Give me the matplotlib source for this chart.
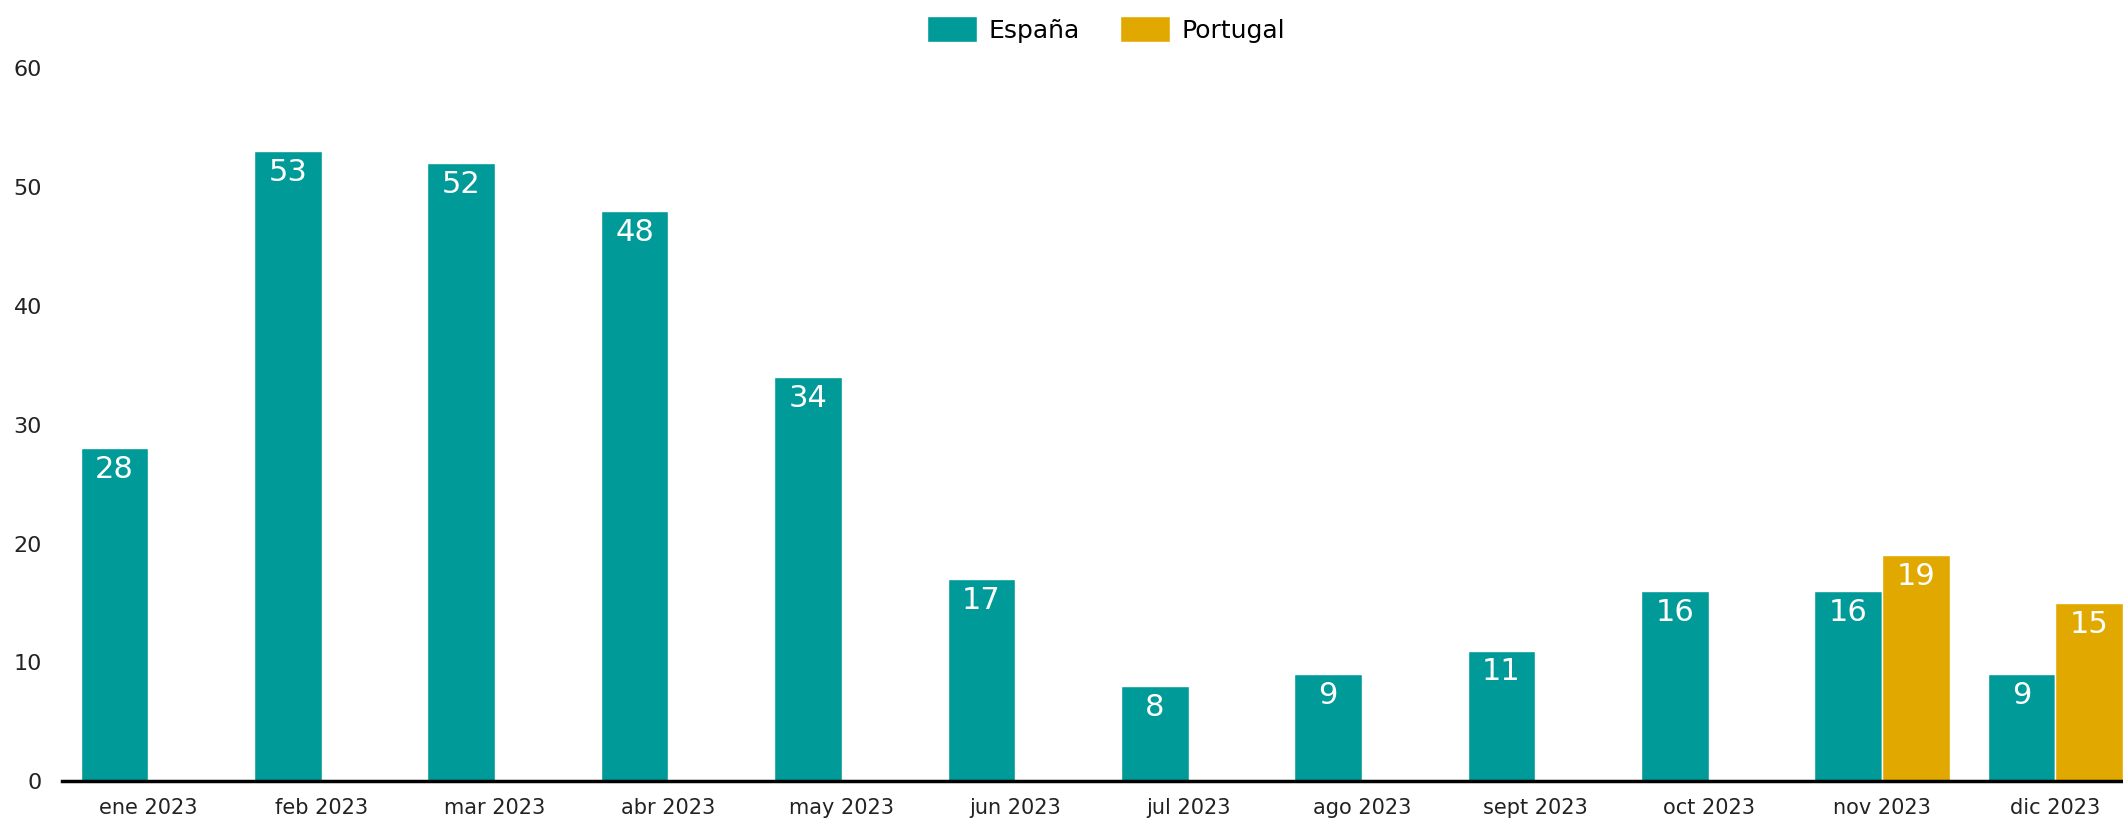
import numpy as np
import matplotlib.pyplot as plt

months = ["ene 2023", "feb 2023", "mar 2023", "abr 2023", "may 2023", "jun 2023",
          "jul 2023", "ago 2023", "sept 2023", "oct 2023", "nov 2023", "dic 2023"]
espana = [28, 53, 52, 48, 34, 17, 8, 9, 11, 16, 16, 9]
portugal = [None, None, None, None, None, None, None, None, None, None, 19, 15]

teal = "#009b98"
gold = "#e1a900"

plt.rcParams['font.family'] = ['DejaVu Sans']

fig = plt.figure(figsize=(21.23, 8.19), dpi=100)
ax = fig.add_axes([0.029, 0.046, 0.971, 0.871])

x = np.arange(len(months))
w = 0.39

bars_es = ax.bar(x - w / 2, espana, w, color=teal, label="España", edgecolor="white", linewidth=1)
idx_pt = [i for i, v in enumerate(portugal) if v is not None]
vals_pt = [portugal[i] for i in idx_pt]
bars_pt = ax.bar(x[idx_pt] + w / 2, vals_pt, w, color=gold, label="Portugal", edgecolor="white", linewidth=1)

for bars in (bars_es, bars_pt):
    for b in bars:
        ax.annotate(f"{int(b.get_height())}", (b.get_x() + b.get_width() / 2, b.get_height()),
                    xytext=(0, -5), textcoords="offset points", ha="center", va="top",
                    color="white", fontsize=22)

ax.set_xlim(-0.5, 11.39)
ax.set_ylim(0, 60)
ax.set_yticks([0, 10, 20, 30, 40, 50, 60])
ax.set_xticks(x)
ax.set_xticklabels(months)
ax.tick_params(axis="both", length=0, labelsize=15, colors="#222222")
ax.tick_params(axis="y", pad=14, labelsize=16)
ax.tick_params(axis="x", pad=12)

for s in ["top", "right", "left"]:
    ax.spines[s].set_visible(False)
ax.spines["bottom"].set_linewidth(2.5)
ax.spines["bottom"].set_color("black")

fig.legend(loc="upper center", bbox_to_anchor=(0.521, 1.008), ncol=2, frameon=False,
           fontsize=18, handlelength=2.0, handleheight=1.25, columnspacing=1.6,
           handletextpad=0.45)

fig.savefig("out.png", dpi=100)
